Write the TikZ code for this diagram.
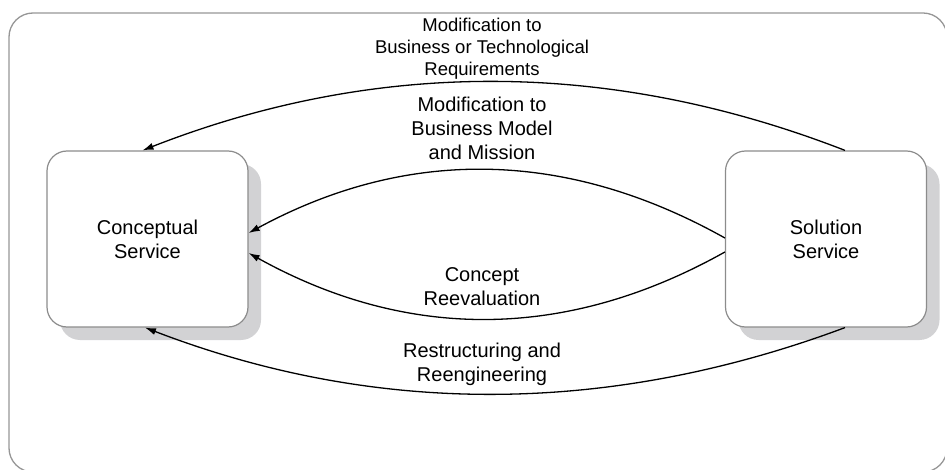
\documentclass[tikz,border=0pt]{standalone}
\usepackage{fontspec}
\setmainfont{Liberation Sans}
\usetikzlibrary{shadows,arrows.meta}
\definecolor{boxgray}{RGB}{140,140,140}
\definecolor{shadegray}{RGB}{210,210,212}
\definecolor{framegray}{RGB}{150,150,150}
\begin{document}
\begin{tikzpicture}[x=1pt,y=-1pt,
  svcbox/.style={draw=boxgray, line width=1.2pt, fill=white, rounded corners=20pt,
    minimum width=201pt, minimum height=176pt, align=center,
    font=\fontsize{20}{24}\selectfont,
    drop shadow={shadow xshift=13pt, shadow yshift=-13pt, fill=shadegray, opacity=1}},
  lbl/.style={align=center, inner sep=0pt, anchor=north, font=\fontsize{20}{24}\selectfont},
  toplbl/.style={lbl, font=\fontsize{18.5}{22}\selectfont},
  flow/.style={line width=1.3pt, -{Latex[length=11pt,width=7pt]}}]
\useasboundingbox (0,0) rectangle (945,470);
\draw[framegray, line width=1.3pt, rounded corners=24pt] (9,13) rectangle (947,472);
\node[svcbox] (con) at (147.5,239) {Conceptual\\Service};
\node[svcbox] (sol) at (826,239) {Solution\\Service};
\draw[flow] ([xshift=19pt]sol.north) .. controls (610,59) and (376,59) .. ([xshift=-5pt]con.north);
\draw[flow] ([yshift=1pt]sol.west) .. controls (566,149) and (407,147) .. ([yshift=6pt]con.east);
\draw[flow] ([yshift=-13pt]sol.west) .. controls (566,341) and (407,341) .. ([yshift=-14pt]con.east);
\draw[flow] ([xshift=19pt]sol.south) .. controls (608,416) and (375,416) .. ([xshift=-2.5pt]con.south);
\node[toplbl] (l1) at (482,18) {Modification to\\Business or Technological\\Requirements};
\node[lbl] (l2) at (482,97) {Modification to\\Business Model\\and Mission};
\node[lbl] (l3) at (482,267) {Concept\\Reevaluation};
\node[lbl] (l4) at (482,343) {Restructuring and\\Reengineering};
\end{tikzpicture}
\end{document}
